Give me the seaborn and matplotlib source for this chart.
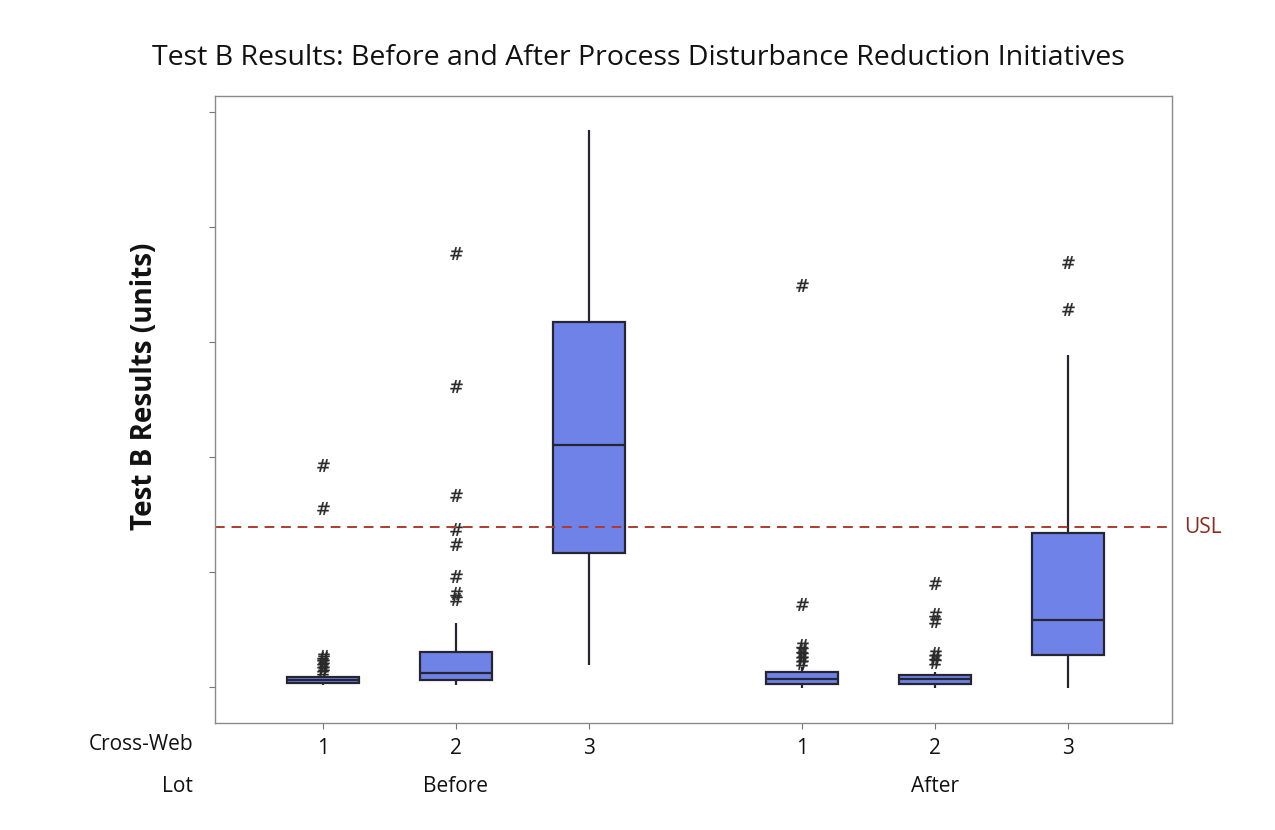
import pandas as pd
import matplotlib.pyplot as plt
import matplotlib.transforms as mtransforms
import seaborn as sns

sns.set_theme(style="white")
plt.rcParams['font.family'] = ['Open Sans', 'DejaVu Sans']
plt.rcParams['text.color'] = '#111111'
plt.rcParams['xtick.color'] = '#111111'
plt.rcParams['axes.labelcolor'] = '#111111'

# --------------------------
# Data (y axis has no labels, ticks at 0..5)
# --------------------------
lots = ["Before", "Before", "Before", "After", "After", "After"]
cross_web = ["1", "2", "3", "1", "2", "3"]
positions = [0.0, 1.0, 2.0, 3.6, 4.6, 5.6]

whisk_lo = [0.017, 0.017, 0.191, -0.009, -0.009, -0.009]
q1 = [0.035, 0.061, 1.165, 0.026, 0.026, 0.278]
median = [0.061, 0.122, 2.104, 0.070, 0.070, 0.583]
q3 = [0.087, 0.304, 3.174, 0.130, 0.104, 1.339]
whisk_hi = [0.100, 0.557, 4.843, 0.174, 0.130, 2.887]

outliers = [
    [1.93, 1.557, 0.27, 0.25, 0.22, 0.19, 0.16, 0.13],
    [3.774, 2.617, 1.670, 1.374, 1.243, 0.965, 0.817, 0.765],
    [],
    [3.496, 0.722, 0.365, 0.322, 0.278, 0.243, 0.209],
    [0.904, 0.635, 0.574, 0.296, 0.261, 0.217],
    [3.696, 3.287],
]

usl = 1.391

# long-form tables for seaborn
box_rows = []
for i in range(len(positions)):
    for v in [whisk_lo[i], q1[i], median[i], q3[i], whisk_hi[i]]:
        box_rows.append({"pos": positions[i], "value": v})
box_df = pd.DataFrame(box_rows)

out_rows = []
for i in range(len(positions)):
    for v in outliers[i]:
        out_rows.append({"pos": positions[i], "value": v})
out_df = pd.DataFrame(out_rows)

# --------------------------
# Plot
# --------------------------
fig = plt.figure(figsize=(12.75, 8.3), dpi=100)
ax = fig.add_axes([0.1686, 0.1289, 0.7506, 0.7554])

sns.boxplot(data=box_df, x="pos", y="value", native_scale=True, whis=(0, 100),
            width=0.54, color="#6F82E8", saturation=1, linecolor="#262633",
            linewidth=1.6, showfliers=False, showcaps=False, ax=ax)

sns.scatterplot(data=out_df, x="pos", y="value", marker="$\\#$", s=85,
                color="#2a2a2a", edgecolor="#2a2a2a", linewidth=0.2, ax=ax)

ax.axhline(usl, color="#B03A2E", linestyle=(0, (5, 3.5)), linewidth=1.4)
ax.text(1.013, usl, "USL", transform=mtransforms.blended_transform_factory(ax.transAxes, ax.transData),
        color="#8B2A1E", fontsize=15, va="center", ha="left", clip_on=False)

ax.set_xlim(-0.81, 6.38)
ax.set_ylim(-0.313, 5.139)
ax.set_yticks([0, 1, 2, 3, 4, 5])
ax.set_yticklabels([])
ax.set_xticks(positions)
ax.set_xticklabels(cross_web, fontsize=15)
ax.tick_params(axis="both", direction="out", length=4, width=0.8, color="#777777",
               bottom=True, left=True, pad=7)
ax.set_xlabel("")
ax.set_ylabel("Test B Results (units)", fontsize=20, fontweight="bold")
ax.yaxis.set_label_coords(-0.058, 0.537)

for spine in ax.spines.values():
    spine.set_color("#8a8a8a")
    spine.set_linewidth(1.0)

# lot labels under the cross-web labels
trans = mtransforms.blended_transform_factory(ax.transData, fig.transFigure)
for lot in ["Before", "After"]:
    idx = [i for i, l in enumerate(lots) if l == lot]
    ax.text(positions[idx[1]], 1 - 786 / 830, lot, transform=trans, fontsize=15,
            ha="center", va="center")
fig.text(193 / 1275, 1 - 745 / 830, "Cross-Web", fontsize=15, ha="right", va="center")
fig.text(193 / 1275, 1 - 786 / 830, "Lot", fontsize=15, ha="right", va="center")

fig.suptitle("Test B Results: Before and After Process Disturbance Reduction Initiatives",
             x=638 / 1275, y=1 - 58 / 830, fontsize=20.5, va="center")

plt.savefig("out.png", dpi=100)
